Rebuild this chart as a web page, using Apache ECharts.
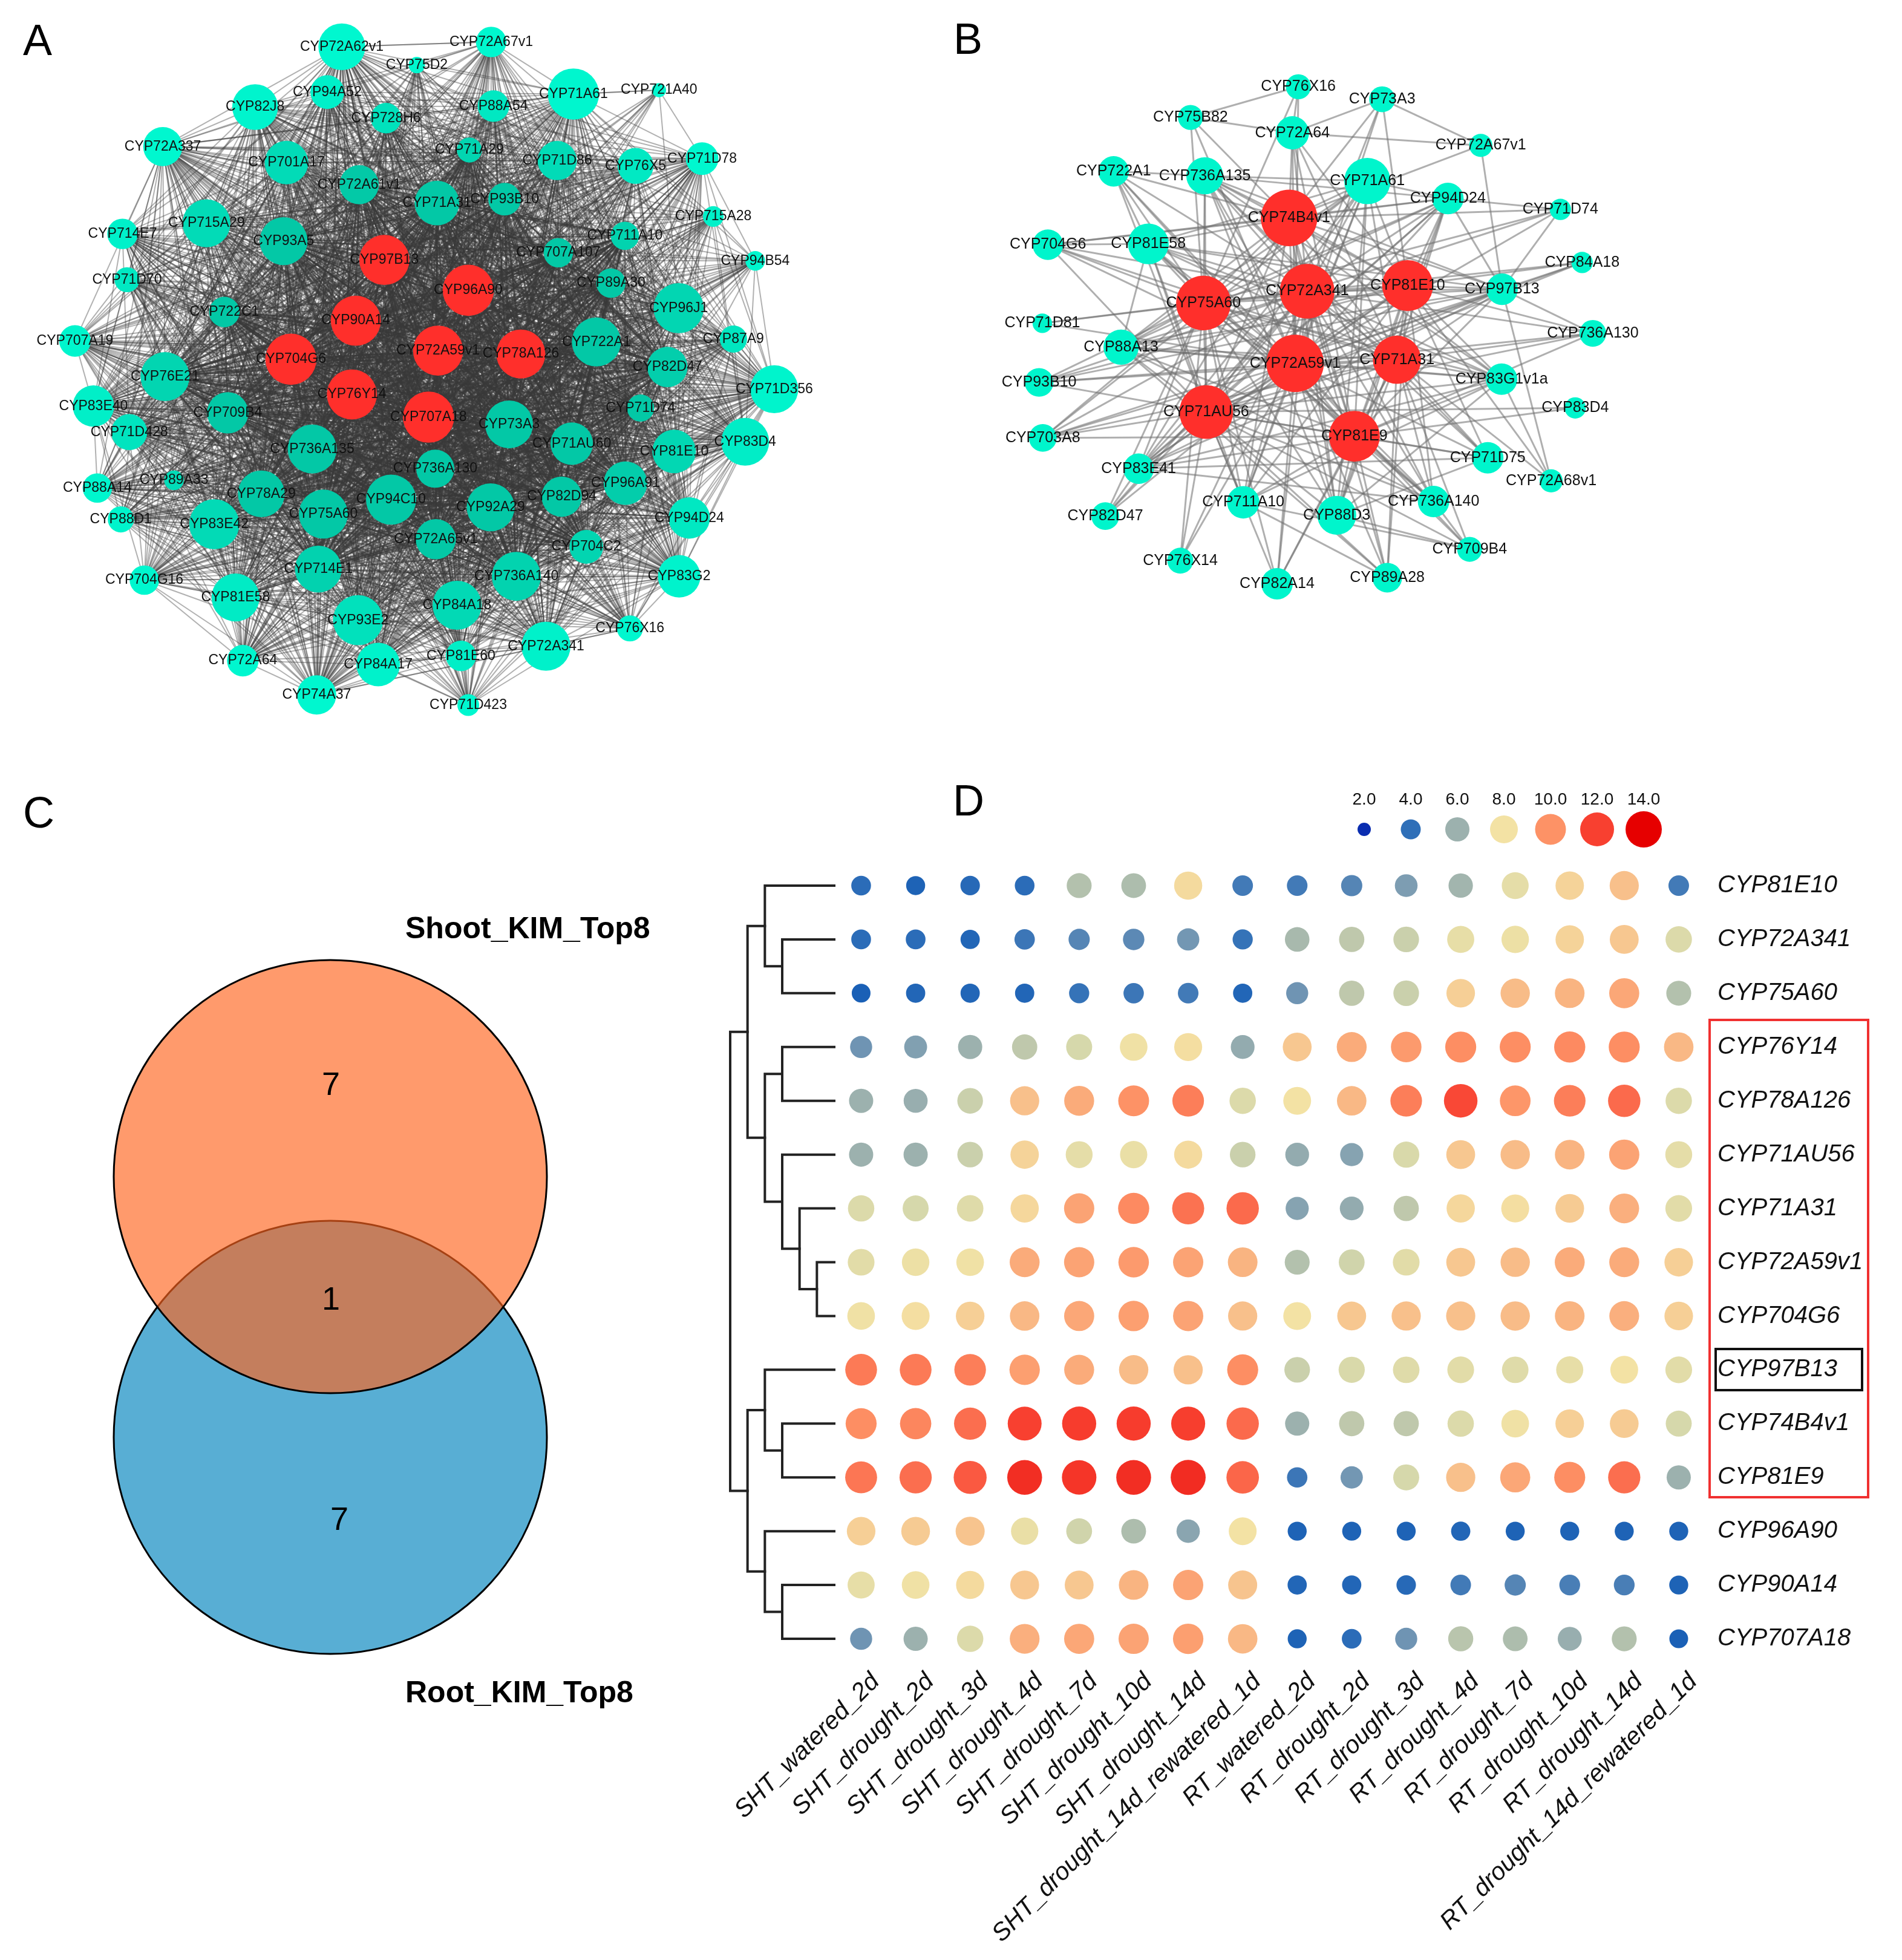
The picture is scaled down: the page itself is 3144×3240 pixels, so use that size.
<!DOCTYPE html>
<html><head><meta charset="utf-8">
<style>html,body{margin:0;padding:0;background:#fff}#c{width:3144px;height:3240px}</style>
<script src="https://cdn.jsdelivr.net/npm/echarts@6/dist/echarts.min.js"></script></head>
<body><div id="c"></div>
<script>
// ---- Panel A network (layout units)
const namesA=['CYP72A62v1','CYP72A67v1','CYP75D2','CYP94A52','CYP82J8','CYP728H6','CYP88A54','CYP71A61','CYP721A40','CYP72A337','CYP701A17','CYP71A29','CYP71D86','CYP76X5','CYP71D78','CYP72A61v1','CYP71A31','CYP93B10','CYP715A28','CYP711A10','CYP714E7','CYP715A29','CYP93A5','CYP707A107','CYP97B13','CYP94B54','CYP71D70','CYP96A90','CYP89A30','CYP722C1','CYP90A14','CYP96J1','CYP87A9','CYP707A19','CYP722A1','CYP72A59v1','CYP78A126','CYP704G6','CYP82D47','CYP76E21','CYP71D356','CYP76Y14','CYP71D74','CYP83E40','CYP709B4','CYP707A18','CYP73A3','CYP71D428','CYP83D4','CYP71AU60','CYP81E10','CYP736A135','CYP736A130','CYP96A91','CYP88A14','CYP89A33','CYP78A29','CYP94C10','CYP82D94','CYP92A29','CYP75A60','CYP83E42','CYP88D1','CYP94D24','CYP72A65v1','CYP704C2','CYP714E1','CYP736A140','CYP83G2','CYP704G16','CYP81E58','CYP93E2','CYP84A18','CYP76X16','CYP72A341','CYP81E60','CYP72A64','CYP84A17','CYP74A37','CYP71D423'];
const xA=[611,878,745,585,456,690,882,1025,1178,291,512,839,996,1136,1255,642,781,902,1275,1117,219,369,507,998,687,1350,227,837,1092,401,636,1213,1311,134,1066,783,931,520,1193,295,1384,629,1145,167,407,766,910,231,1332,1022,1205,558,778,1118,174,311,467,699,1004,877,578,383,216,1232,779,1048,569,923,1214,258,421,640,817,1126,976,824,434,676,566,837];
const yA=[97,87,135,191,222,245,220,195,187,304,337,311,333,344,329,383,421,413,449,489,485,463,500,524,539,541,580,602,587,647,665,639,703,707,709,727,734,745,761,781,807,818,846,842,856,865,880,896,916,920,936,931,972,1002,1012,996,1024,1036,1030,1052,1066,1087,1077,1074,1118,1134,1180,1195,1195,1203,1239,1286,1255,1303,1340,1360,1370,1378,1441,1462];
const degreeA=[86,56,30,62,84,56,58,94,26,72,80,46,72,66,60,72,82,60,38,52,56,88,88,54,92,36,46,94,54,56,92,92,50,58,90,92,90,94,74,90,88,92,50,76,76,94,88,66,88,78,80,90,70,80,54,36,86,92,74,88,90,92,48,76,74,62,86,90,78,54,88,92,90,48,90,56,58,80,72,40];
const hubsA=['CYP97B13','CYP96A90','CYP90A14','CYP72A59v1','CYP78A126','CYP704G6','CYP76Y14','CYP707A18'];
const extraLinksA=[['CYP721A40','CYP71A61'],['CYP72A62v1','CYP72A67v1'],['CYP721A40','CYP71D78'],['CYP704G16','CYP72A64'],['CYP94B54','CYP71D78'],['CYP94B54','CYP715A28']];
// ---- Panel B network
const namesB=['CYP76X16','CYP73A3','CYP75B82','CYP72A64','CYP72A67v1','CYP722A1','CYP736A135','CYP71A61','CYP94D24','CYP71D74','CYP74B4v1','CYP704G6','CYP81E58','CYP84A18','CYP72A341','CYP81E10','CYP97B13','CYP75A60','CYP71D81','CYP736A130','CYP88A13','CYP72A59v1','CYP71A31','CYP83G1v1a','CYP93B10','CYP83D4','CYP71AU56','CYP81E9','CYP703A8','CYP71D75','CYP83E41','CYP72A68v1','CYP736A140','CYP711A10','CYP88D3','CYP82D47','CYP709B4','CYP76X14','CYP89A28','CYP82A14'];
const xB=[779,960,546,766,1173,380,577,928,1102,1345,759,238,455,1392,798,1015,1219,574,226,1415,396,772,992,1218,219,1377,580,900,227,1188,434,1325,1071,660,862,362,1149,524,971,733];
const yB=[214,245,290,328,359,423,434,447,490,517,538,604,602,648,719,705,714,748,798,823,857,897,888,936,944,1007,1017,1077,1081,1130,1157,1187,1238,1240,1272,1274,1356,1384,1426,1441];
const degreeB=[54,56,54,72,50,66,80,100,68,46,122,66,88,46,118,110,68,118,42,58,76,124,104,68,62,46,116,110,60,68,66,50,68,70,84,60,54,56,64,68];
const hubsB=['CYP74B4v1','CYP72A341','CYP81E10','CYP75A60','CYP72A59v1','CYP71A31','CYP71AU56','CYP81E9'];
// neighbours of each peripheral node: hub letters a-h (order of hubsB), then other peripheral nodes
const adjB={CYP76X16:['de','CYP75B82','CYP72A64'],CYP73A3:['abce','CYP72A64','CYP72A67v1'],CYP75B82:['ade','CYP72A64'],CYP72A64:['abcefh','CYP72A67v1'],CYP72A67v1:['a','CYP97B13'],CYP722A1:['abdegh','CYP736A135','CYP81E58'],CYP736A135:['abcdefgh','CYP71A61','CYP88D3','CYP83G1v1a','CYP97B13','CYP71D75'],CYP71A61:['abcdefgh','CYP94D24','CYP81E58','CYP83E41','CYP88A13','CYP711A10','CYP703A8','CYP88D3'],CYP94D24:['abcdefgh','CYP71D74','CYP97B13','CYP83E41','CYP88A13','CYP88D3','CYP736A135','CYP704G6'],CYP71D74:['abde','CYP97B13'],CYP704G6:['abdefg','CYP81E58'],CYP81E58:['abcdefgh','CYP97B13','CYP83G1v1a','CYP88A13','CYP736A140','CYP711A10'],CYP84A18:['bceg','CYP97B13'],CYP97B13:['abcdefgh','CYP88A13','CYP83E41','CYP93B10','CYP703A8','CYP736A130'],CYP71D81:['bde'],CYP736A130:['bcefgh'],CYP88A13:['abcdefgh','CYP83G1v1a','CYP736A140','CYP89A28'],CYP83G1v1a:['abcdefgh'],CYP93B10:['bcdefg'],CYP83D4:['gh'],CYP703A8:['bdefgh'],CYP71D75:['bcefgh'],CYP83E41:['abcdefgh','CYP83G1v1a','CYP736A140','CYP71D75','CYP82D47'],CYP72A68v1:['cf','CYP83G1v1a','CYP97B13'],CYP736A140:['abcdefgh','CYP709B4'],CYP711A10:['abcdegh','CYP83G1v1a','CYP89A28'],CYP88D3:['abcdefgh','CYP83G1v1a','CYP71D75','CYP709B4'],CYP82D47:['bdeg'],CYP709B4:['efgh','CYP711A10'],CYP76X14:['bdeg'],CYP89A28:['bcefgh'],CYP82A14:['bdefgh']};
// ---- Panel C Venn
const vennSets=['Root_KIM_Top8','Shoot_KIM_Top8'];
const vennCenterX=[546,546], vennCenterY=[1126,695];
const vennCountLabels=['7','1','7'];
const vennCountX=[547,547,561], vennCountY=[545,900,1264];
// ---- Panel D dot heat map
const genes=['CYP81E10','CYP72A341','CYP75A60','CYP76Y14','CYP78A126','CYP71AU56','CYP71A31','CYP72A59v1','CYP704G6','CYP97B13','CYP74B4v1','CYP81E9','CYP96A90','CYP90A14','CYP707A18'];
const samples=['SHT_watered_2d','SHT_drought_2d','SHT_drought_3d','SHT_drought_4d','SHT_drought_7d','SHT_drought_10d','SHT_drought_14d','SHT_drought_14d_rewatered_1d','RT_watered_2d','RT_drought_2d','RT_drought_3d','RT_drought_4d','RT_drought_7d','RT_drought_10d','RT_drought_14d','RT_drought_14d_rewatered_1d'];
const expression=[
[3.9,3.6,3.8,3.9,6.4,6.3,8.2,4.3,4.3,4.6,5.3,6.1,7.5,8.4,8.9,4.3],
[3.9,3.9,3.7,4.2,4.6,4.7,5.1,4.1,6.2,6.6,6.8,7.6,7.8,8.4,8.7,7.2],
[3.5,3.7,3.7,3.7,4.1,4.2,4.3,3.7,5.0,6.6,6.8,8.5,9.0,9.2,9.5,6.4],
[5.0,5.4,6.0,6.6,7.0,7.9,8.1,5.8,8.7,9.4,9.8,10.1,10.1,10.2,10.1,9.1],
[6.0,5.9,6.8,8.9,9.4,10.0,10.5,7.2,8.0,9.1,10.5,11.8,9.9,10.5,11.0,7.2],
[6.0,6.0,6.8,8.4,7.5,7.7,8.2,6.8,5.8,5.5,7.1,8.7,9.0,9.2,9.6,7.5],
[7.2,7.0,7.3,8.3,9.6,10.2,10.8,11.0,5.5,5.8,6.6,8.3,8.1,8.6,9.3,7.4],
[7.4,7.8,7.9,9.4,9.6,9.8,9.6,9.2,6.4,6.9,7.4,8.7,9.0,9.4,9.4,8.5],
[7.9,8.1,8.5,9.1,9.5,9.7,9.6,8.9,8.0,8.7,8.9,8.9,9.0,9.2,9.3,8.5],
[10.6,10.6,10.5,9.7,9.4,9.0,8.9,10.1,6.8,7.1,7.3,7.4,7.3,7.6,8.0,7.4],
[10.1,10.3,10.9,12.0,12.2,12.2,12.1,11.0,6.0,6.6,6.6,7.2,7.9,8.5,8.6,7.0],
[10.7,10.9,11.4,12.8,12.5,12.8,12.9,11.1,4.2,5.1,7.0,8.9,9.5,10.1,10.9,6.0],
[8.5,8.6,8.8,7.7,6.9,6.3,5.6,8.0,3.6,3.6,3.6,3.7,3.6,3.6,3.6,3.6],
[7.6,7.9,8.2,8.7,8.7,9.2,9.6,8.8,3.7,3.7,3.8,4.3,4.6,4.4,4.4,3.6],
[5.0,6.0,7.2,9.3,9.5,9.6,9.7,9.1,3.6,3.9,5.0,6.5,6.3,5.9,6.4,3.5]];
const legendValues=[2,4,6,8,10,12,14];
// clustering: [child, child, height]; children >=15 refer to earlier merges (15 = first merge)
const merges=[[1,2,3],[0,15,4],[3,4,3],[7,8,1],[6,18,2],[5,19,3],[17,20,4],[16,21,5],[10,11,3],[9,23,4],[13,14,3],[12,25,4],[24,26,5],[22,27,6]];

// ---- styling and scales
const FONT='"Liberation Sans", Arial, sans-serif';
// colour scale at 2,3,...,14
const scaleColors=['#0A2DB0','#0550B4','#2F6FB8','#6F94B3','#9CB1AE','#D6D8AB','#F3E2A4','#F8BC88','#FD9266','#FB6A4C','#F84030','#F12A20','#E60000'];
const sizeStopV=[2,3.5,4,6,8,10,12,14], sizeStopS=[22,31,33,40,46,51,56,60];
function dotSize(v){for(let i=1;i<sizeStopV.length;i++){if(v<=sizeStopV[i]){const t=(v-sizeStopV[i-1])/(sizeStopV[i]-sizeStopV[i-1]);return sizeStopS[i-1]+t*(sizeStopS[i]-sizeStopS[i-1]);}}return 60;}
const hiddenValue=(g,min,max,inv)=>({type:'value',gridIndex:g,min,max,inverse:!!inv,show:false,scale:true});
function mixHex(a,b,t){const p=(h,i)=>parseInt(h.substr(i,2),16);const c=[1,3,5].map(i=>Math.round(p(a,i)+(p(b,i)-p(a,i))*t));return `rgb(${c.join(',')})`;}
// Panel A: teal nodes sink into the dense centre of the web, so they read darker towards the middle.
const distA=(x,y)=>Math.hypot(x-760,y-770);
const tealA=(x,y)=>{const t=Math.max(0,Math.min(1,(distA(x,y)-400)/(640-400)));return mixHex('#03C8A6','#00F7CF',t);};

function graphSeries(names,xs,ys,deg,hubs,links,axis,k,fs,edge,teal){
  return {type:'graph',coordinateSystem:'cartesian2d',xAxisIndex:axis,yAxisIndex:axis,layout:'none',silent:true,animation:false,
    data:names.map((n,i)=>({name:n,value:[xs[i],ys[i]],symbolSize:deg[i]*k,
      itemStyle:{color:hubs.includes(n)?'#FF2F2B':teal(xs[i],ys[i]),opacity:1}})),
    links:links.map(l=>({source:l[0],target:l[1],lineStyle:l[2]})),
    lineStyle:edge,
    label:{show:true,position:'inside',formatter:'{b}',fontFamily:FONT,fontSize:fs,color:'#111'},
    emphasis:{disabled:true}};
}
// Panel A is nearly complete: heavier-degree nodes link with one another, light ones only to the heaviest.
const linksA=[...extraLinksA];
namesA.forEach((a,i)=>{for(let j=i+1;j<namesA.length;j++){if(degreeA[i]+degreeA[j]>=118){
  const inner=distA(xA[i],yA[i])<470&&distA(xA[j],yA[j])<470;
  linksA.push([a,namesA[j],inner?{width:2.6,opacity:.62,color:'#383838'}:undefined]);}}});
const linksB=[];
hubsB.forEach((a,i)=>{for(let j=i+1;j<hubsB.length;j++)linksB.push([a,hubsB[j]]);});
Object.keys(adjB).forEach(n=>{const v=adjB[n];
  for(const c of v[0])linksB.push([n,hubsB['abcdefgh'.indexOf(c)]]);
  v.slice(1).forEach(o=>linksB.push([n,o]));});

const heatData=[];expression.forEach((r,y)=>r.forEach((v,x)=>heatData.push([x,y,v])));
const legendData=legendValues.map((v,i)=>[i,0,v]);
const rowPos={};genes.forEach((g,i)=>rowPos[i]=i);
const dendro=[],hgt={};
merges.forEach((m,i)=>{const id=15+i;const ya=rowPos[m[0]],yb=rowPos[m[1]],ha=hgt[m[0]]||0,hb=hgt[m[1]]||0;
  dendro.push({coords:[[ha,ya],[m[2],ya],[m[2],yb],[hb,yb]]});rowPos[id]=(ya+yb)/2;hgt[id]=m[2];});

const TOP=1419.5,HEAT_H=1334,HEAT_L=1378.4,HEAT_W=1441.6;
const chart=echarts.init(document.getElementById('c'),null,{width:3144,height:3240,renderer:'canvas'});
const letter=(t,x,y)=>({type:'text',x,y,style:{text:t,fontFamily:FONT,fontSize:72,fill:'#000',align:'center',verticalAlign:'middle'}});
const bold=(t,x,y)=>({type:'text',x,y,style:{text:t,fontFamily:FONT,fontWeight:'bold',fontSize:50,fill:'#000',align:'left',verticalAlign:'middle'}});
chart.setOption({
  backgroundColor:'#fff',animation:false,
  grid:[
    {left:0,top:0,width:1450,height:1250},
    {left:1550,top:0,width:1200,height:1050},
    {left:0,top:1250,width:1150,height:1600},
    {left:HEAT_L,top:TOP,width:HEAT_W,height:HEAT_H},
    {left:1207,top:TOP,width:172,height:HEAT_H},
    {left:2216.5,top:1340,width:539,height:62},
    {left:HEAT_L+24,top:TOP,width:HEAT_W,height:HEAT_H}
  ],
  xAxis:[hiddenValue(0,0,1568),hiddenValue(1,0,1568),hiddenValue(2,0,1150),
    {type:'category',gridIndex:3,data:samples,show:false},
    hiddenValue(4,0,6,true),
    {type:'category',gridIndex:5,position:'top',data:legendValues.map(v=>v.toFixed(1)),axisLine:{show:false},axisTick:{show:false},
     axisLabel:{interval:0,margin:4,fontFamily:FONT,fontSize:28,color:'#111'}},
    {type:'category',gridIndex:6,data:samples,axisLine:{show:false},axisTick:{show:false},
     axisLabel:{interval:0,rotate:45,margin:20,fontFamily:FONT,fontStyle:'italic',fontSize:41,color:'#111'}}],
  yAxis:[hiddenValue(0,0,1568,true),hiddenValue(1,0,1568,true),hiddenValue(2,0,1600,true),
    {type:'category',gridIndex:3,position:'right',inverse:true,data:genes,axisLine:{show:false},axisTick:{show:false},
     axisLabel:{interval:0,margin:19,align:'left',padding:[4,0,0,0],fontFamily:FONT,fontStyle:'italic',fontSize:40,color:'#111'}},
    hiddenValue(4,-0.5,14.5,true),hiddenValue(5,-1,1),hiddenValue(6,0,1)],
  visualMap:[{type:'continuous',show:false,min:2,max:14,dimension:2,seriesIndex:[6,7],inRange:{color:scaleColors}}],
  series:[
    graphSeries(namesA,xA,yA,degreeA,hubsA,linksA,0,0.9,23,{color:'#3c3c3c',width:2,opacity:.4,curveness:0},tealA),
    graphSeries(namesB,xB,yB,degreeB,hubsB,linksB,1,0.765,25,{color:'#6e6e6e',width:3,opacity:.55,curveness:0},()=>'#00F5CC'),
    {type:'scatter',xAxisIndex:2,yAxisIndex:2,silent:true,symbolSize:716,clip:false,data:[[vennCenterX[0],vennCenterY[0]]],name:vennSets[0],
     itemStyle:{color:'#58AED4',borderColor:'#000',borderWidth:3,opacity:1},z:2},
    {type:'scatter',xAxisIndex:2,yAxisIndex:2,silent:true,symbolSize:716,clip:false,data:[[vennCenterX[1],vennCenterY[1]]],name:vennSets[1],
     itemStyle:{color:'rgba(255,100,29,.65)',borderColor:'#000',borderWidth:3,opacity:1},z:3},
    {type:'scatter',xAxisIndex:2,yAxisIndex:2,silent:true,symbolSize:2,z:4,itemStyle:{color:'rgba(0,0,0,0)'},
     data:vennCountLabels.map((t,i)=>({value:[vennCountX[i],vennCountY[i]],name:t})),
     label:{show:true,position:'inside',formatter:'{b}',fontFamily:FONT,fontSize:54,color:'#000',opacity:1}},
    {type:'lines',coordinateSystem:'cartesian2d',xAxisIndex:4,yAxisIndex:4,polyline:true,silent:true,clip:false,data:dendro,
     lineStyle:{color:'#222',width:4,opacity:1,cap:'square',join:'miter'}},
    {type:'scatter',xAxisIndex:3,yAxisIndex:3,silent:true,data:heatData,encode:{x:0,y:1},symbolSize:d=>dotSize(d[2]),itemStyle:{opacity:1}},
    {type:'scatter',xAxisIndex:5,yAxisIndex:5,silent:true,data:legendData,encode:{x:0,y:1},symbolSize:d=>dotSize(d[2]),itemStyle:{opacity:1}}
  ],
  graphic:[
    letter('A',62,71),letter('B',1600,69),letter('C',64,1348),letter('D',1601,1328),
    bold(vennSets[1],670,1537),bold(vennSets[0],670,2800),
    {type:'rect',shape:{x:2826,y:1686,width:262,height:789},style:{fill:'none',stroke:'#F03030',lineWidth:4}},
    {type:'rect',shape:{x:2836,y:2230,width:242,height:68},style:{fill:'none',stroke:'#111',lineWidth:4}}
  ]
});
</script></body></html>
